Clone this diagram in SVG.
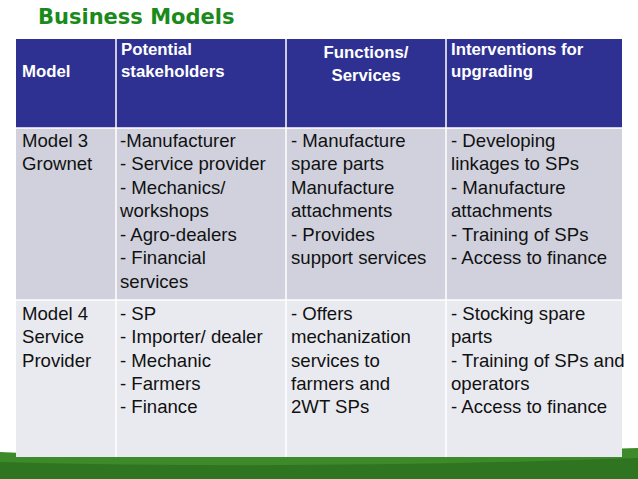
<svg xmlns="http://www.w3.org/2000/svg" width="638" height="479" viewBox="0 0 638 479">
<style>
.h{font-family:Arial,"Liberation Sans",sans-serif;font-weight:bold;font-size:16.8px;fill:#fff}
.t{font-family:Arial,"Liberation Sans",sans-serif;font-size:18.6px;fill:#111}
.g{stroke:#fff;stroke-width:1.5;fill:none}
</style>
<rect width="638" height="479" fill="#fff"/>
<path d="M0 452 Q200 462 638 448 L638 479 L0 479 Z" fill="#3c8a2a"/>
<path d="M0 462 Q300 470 638 458 L638 479 L0 479 Z" fill="#2f7420"/>
<text x="38" y="24" font-family="Verdana,'DejaVu Sans',sans-serif" font-weight="bold" font-size="21" fill="#1a8a1a">Business Models</text>
<g id="table">
<rect x="16" y="39" width="606" height="89" fill="#2e3192"/>
<rect x="16" y="128" width="606" height="172" fill="#d0d1dd"/>
<rect x="16" y="300" width="606" height="157" fill="#e9eaf0"/>
<path class="g" d="M16 128H622M16 300H622M116 39V457M286 39V457M446 39V457"/>
</g>
<g id="header">
<text class="h" x="22" y="77">Model</text>
<text class="h" x="121" y="55">Potential</text>
<text class="h" x="121" y="77">stakeholders</text>
<text class="h" x="366" y="58" text-anchor="middle">Functions/</text>
<text class="h" x="366" y="81" text-anchor="middle">Services</text>
<text class="h" x="451" y="55">Interventions for</text>
<text class="h" x="451" y="77">upgrading</text>
</g>
<g id="row1">
<text class="t" x="22" y="147">Model 3</text>
<text class="t" x="22" y="170">Grownet</text>
<text class="t" x="120" y="147">-Manufacturer</text>
<text class="t" x="120" y="170">- Service provider</text>
<text class="t" x="120" y="194">- Mechanics/</text>
<text class="t" x="120" y="217">workshops</text>
<text class="t" x="120" y="241">- Agro-dealers</text>
<text class="t" x="120" y="264">- Financial</text>
<text class="t" x="120" y="288">services</text>
<text class="t" x="291" y="147">- Manufacture</text>
<text class="t" x="291" y="170">spare parts</text>
<text class="t" x="291" y="194">Manufacture</text>
<text class="t" x="291" y="217">attachments</text>
<text class="t" x="291" y="241">- Provides</text>
<text class="t" x="291" y="264">support services</text>
<text class="t" x="451" y="147">- Developing</text>
<text class="t" x="451" y="170">linkages to SPs</text>
<text class="t" x="451" y="194">- Manufacture</text>
<text class="t" x="451" y="217">attachments</text>
<text class="t" x="451" y="241">- Training of SPs</text>
<text class="t" x="451" y="264">- Access to finance</text>
</g>
<g id="row2">
<text class="t" x="22" y="320">Model 4</text>
<text class="t" x="22" y="343">Service</text>
<text class="t" x="22" y="367">Provider</text>
<text class="t" x="120" y="320">- SP</text>
<text class="t" x="120" y="343">- Importer/ dealer</text>
<text class="t" x="120" y="367">- Mechanic</text>
<text class="t" x="120" y="390">- Farmers</text>
<text class="t" x="120" y="413">- Finance</text>
<text class="t" x="291" y="320">- Offers</text>
<text class="t" x="291" y="343">mechanization</text>
<text class="t" x="291" y="367">services to</text>
<text class="t" x="291" y="390">farmers and</text>
<text class="t" x="291" y="413">2WT SPs</text>
<text class="t" x="451" y="320">- Stocking spare</text>
<text class="t" x="451" y="343">parts</text>
<text class="t" x="451" y="367">- Training of SPs and</text>
<text class="t" x="451" y="390">operators</text>
<text class="t" x="451" y="413">- Access to finance</text>
</g>
</svg>
